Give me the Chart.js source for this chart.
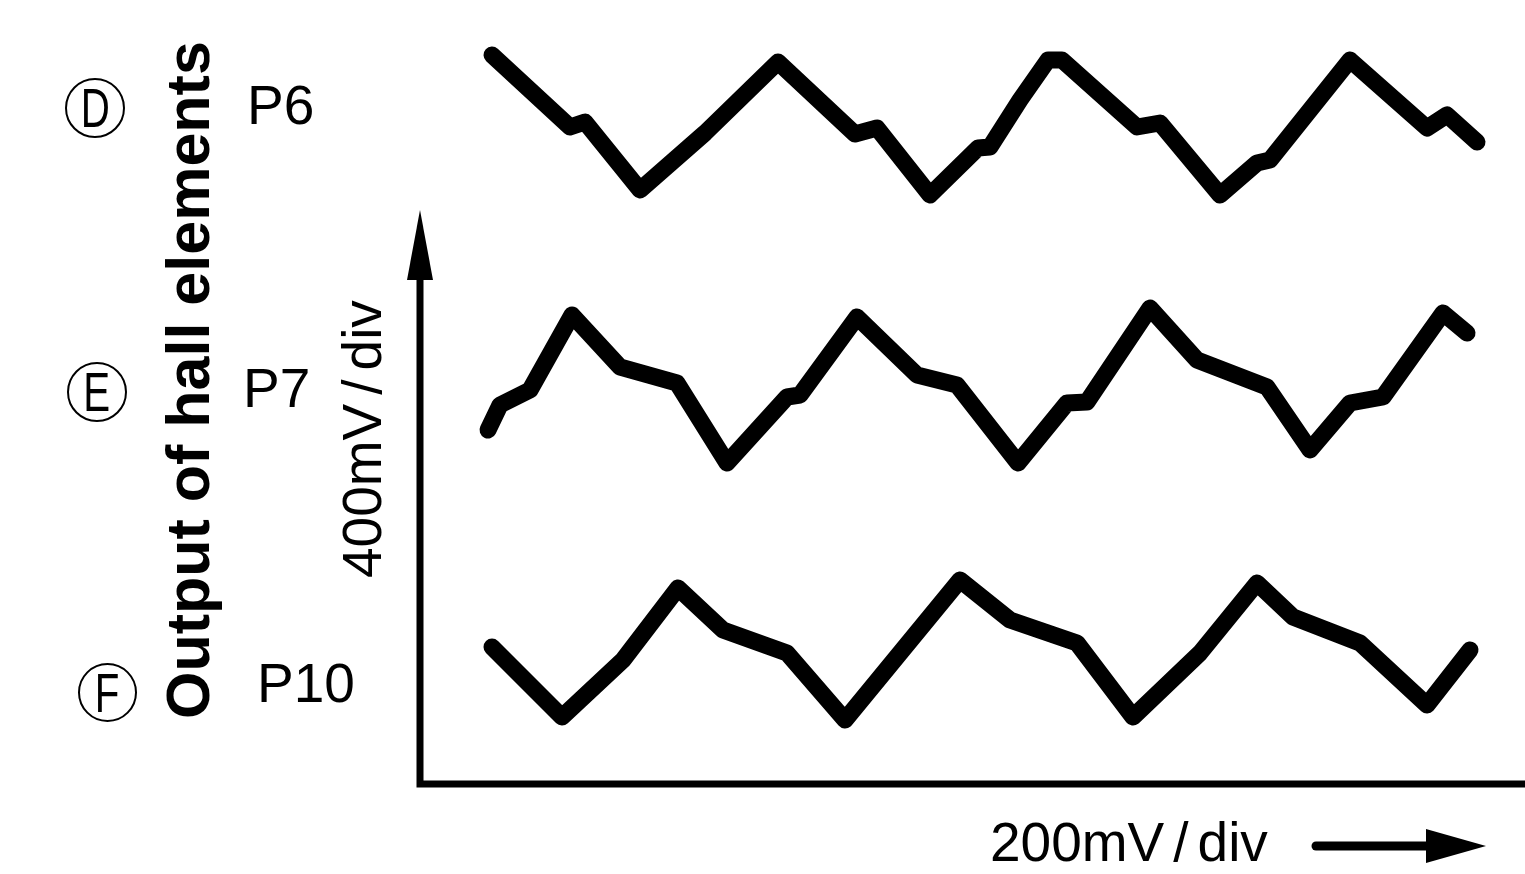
<!DOCTYPE html>
<html>
<head>
<meta charset="utf-8">
<script src="https://cdn.jsdelivr.net/npm/chart.js@4.4.1/dist/chart.umd.min.js"></script>
<style>
  body { margin: 0; background: #fff; }
  #wrap { position: relative; width: 1525px; height: 874px; overflow: hidden; }
  #myChart { position: absolute; left: 0; top: 0; }
  .lbl { position: absolute; white-space: nowrap; line-height: 1; color: #000;
         font-family: "Liberation Sans", Arial, sans-serif; }
  .rot { transform-origin: 0 0; transform: rotate(-90deg); }
  .circ { position: absolute; border: 2.5px solid #000; border-radius: 50%; box-sizing: border-box;
          display: flex; align-items: center; justify-content: center;
          font-family: "Liberation Sans", Arial, sans-serif; font-size: 56px; line-height: 1; }
  .circ span { transform: scaleX(0.72); display: inline-block; }
  .sl { margin: 0 9px; }
</style>
</head>
<body>
<div id="wrap">
  <canvas id="myChart" width="1525" height="874"></canvas>

  <div class="circ" style="left:65px; top:78px; width:60px; height:60px;"><span>D</span></div>
  <div class="circ" style="left:67px; top:362px; width:60px; height:60px;"><span>E</span></div>
  <div class="circ" style="left:78px; top:663px; width:59px; height:59px;"><span>F</span></div>

  <div class="lbl" style="left:247px; top:78px; font-size:55px;">P6</div>
  <div class="lbl" style="left:243px; top:361px; font-size:55px;">P7</div>
  <div class="lbl" style="left:257px; top:656px; font-size:55px;">P10</div>

  <div class="lbl rot" style="left:158px; top:719px; font-size:61px; font-weight:bold;">Output of hall elements</div>
  <div class="lbl rot" style="left:335px; top:578px; font-size:55px;">400mV<span class="sl">/</span>div</div>
  <div class="lbl" style="left:990px; top:815px; font-size:55px;">200mV<span class="sl">/</span>div</div>
</div>
<script>
// horizontal position in divisions (100 px each), vertical position in divisions above the x axis
var p6X = [0.72, 1.50, 1.65, 2.20, 2.85, 3.58, 4.35, 4.57, 5.10, 5.58, 5.70, 6.00, 6.28, 6.42, 7.17, 7.40, 8.00, 8.37, 8.50, 9.30, 10.07, 10.27, 10.57];
var p6Y = [7.30, 6.58, 6.63, 5.95, 6.52, 7.23, 6.51, 6.57, 5.90, 6.37, 6.38, 6.85, 7.25, 7.25, 6.58, 6.62, 5.90, 6.22, 6.25, 7.25, 6.57, 6.70, 6.43];

var p7X = [0.68, 0.80, 1.10, 1.52, 2.00, 2.57, 3.07, 3.67, 3.80, 4.37, 4.97, 5.37, 5.98, 6.47, 6.67, 7.30, 7.77, 8.47, 8.90, 9.30, 9.63, 10.23, 10.47];
var p7Y = [3.55, 3.80, 3.95, 4.70, 4.18, 4.02, 3.22, 3.88, 3.90, 4.68, 4.10, 4.00, 3.22, 3.82, 3.83, 4.77, 4.25, 3.98, 3.35, 3.82, 3.88, 4.72, 4.52];

var p10X = [0.72, 1.42, 2.03, 2.58, 3.03, 3.67, 4.25, 5.40, 5.90, 6.57, 7.13, 7.80, 8.37, 8.73, 9.40, 10.07, 10.50];
var p10Y = [1.38, 0.68, 1.25, 1.97, 1.55, 1.32, 0.65, 2.05, 1.65, 1.42, 0.68, 1.32, 2.02, 1.68, 1.42, 0.80, 1.35];

var xMax = 11.05;
var yMax = 7.85;
var yArrowTop = 5.75;

const pts = (xs, ys) => xs.map((x, i) => ({ x: x, y: ys[i] }));

const trace = (label, xs, ys) => ({
    label: label,
    data: pts(xs, ys),
    borderColor: '#000',
    borderWidth: 17,
    borderJoinStyle: 'round',
    borderCapStyle: 'round',
    pointRadius: 0,
    tension: 0,
    clip: false
});

// axes with arrows, drawn from the scales
const axesPlugin = {
    id: 'axes',
    afterDatasetsDraw(chart) {
        const c = chart.ctx;
        const xs = chart.scales.x, ys = chart.scales.y;
        const x0 = xs.getPixelForValue(0), y0 = ys.getPixelForValue(0);
        const yTop = ys.getPixelForValue(yArrowTop);
        c.save();
        c.strokeStyle = '#000';
        c.fillStyle = '#000';
        c.lineWidth = 7;
        c.lineCap = 'butt';
        c.beginPath();
        c.moveTo(x0, yTop + 60);
        c.lineTo(x0, y0 - 1);
        c.lineTo(xs.getPixelForValue(xMax) + 5, y0 - 1);
        c.stroke();
        // y arrow head
        c.beginPath();
        c.moveTo(x0, yTop);
        c.lineTo(x0 - 13, yTop + 70);
        c.lineTo(x0 + 13, yTop + 70);
        c.closePath();
        c.fill();
        // direction arrow under the x axis
        const ay = 846;
        c.lineWidth = 9;
        c.lineCap = 'round';
        c.beginPath();
        c.moveTo(1316, ay);
        c.lineTo(1440, ay);
        c.stroke();
        c.beginPath();
        c.moveTo(1486, ay);
        c.lineTo(1426, ay - 17);
        c.lineTo(1426, ay + 17);
        c.closePath();
        c.fill();
        c.restore();
    }
};

var ctx = document.getElementById('myChart').getContext('2d');
var chart = new Chart(ctx, {
    type: 'line',
    data: {
        datasets: [
            trace('P6', p6X, p6Y),
            trace('P7', p7X, p7Y),
            trace('P10', p10X, p10Y)
        ]
    },
    options: {
        responsive: false,
        animation: false,
        events: [],
        layout: { padding: { left: 420, right: 0, top: 0, bottom: 89 } },
        plugins: { legend: { display: false }, tooltip: { enabled: false } },
        scales: {
            x: { type: 'linear', min: 0, max: xMax, display: false },
            y: { type: 'linear', min: 0, max: yMax, display: false }
        }
    },
    plugins: [axesPlugin]
});
</script>
</body>
</html>
